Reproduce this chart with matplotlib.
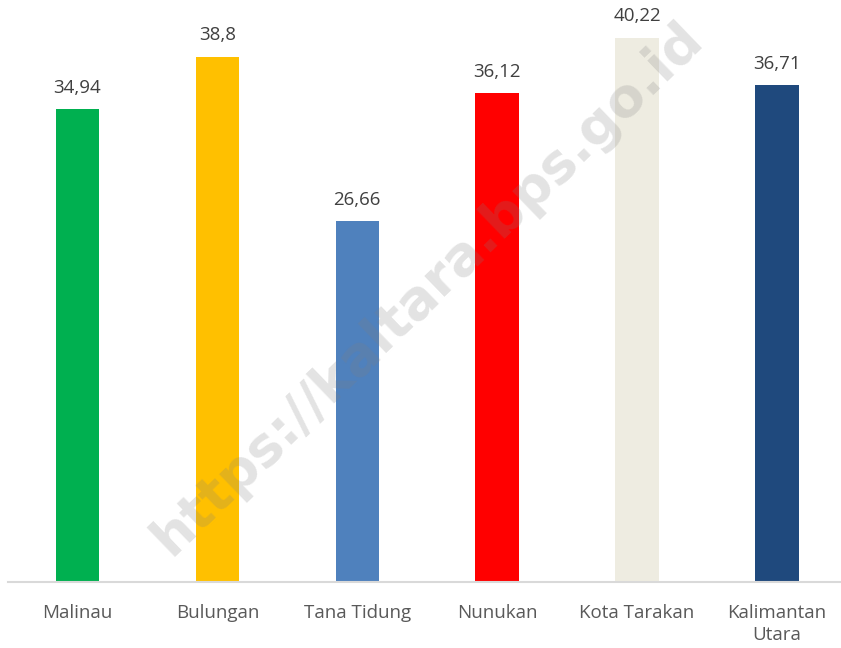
import matplotlib.pyplot as plt

# data
kabupaten = ['Malinau', 'Bulungan', 'Tana Tidung', 'Nunukan', 'Kota Tarakan', 'Kalimantan\nUtara']
nilai = [34.94, 38.8, 26.66, 36.12, 40.22, 36.71]
label_nilai = ['34,94', '38,8', '26,66', '36,12', '40,22', '36,71']
warna = ['#00b050', '#ffc000', '#4f81bd', '#ff0000', '#eeece1', '#1f497d']

plt.rcParams['font.family'] = ['Open Sans', 'DejaVu Sans']

fig = plt.figure(figsize=(8.41, 6.48), dpi=100)
ax = fig.add_axes([0.009, 0.1019, 0.998, 0.8981])

x = range(len(kabupaten))
bars = ax.bar(x, nilai, width=0.31, color=warna)
for b, t in zip(bars, label_nilai):
    ax.annotate(t, (b.get_x() + b.get_width() / 2, b.get_height()),
                xytext=(0, 9), textcoords='offset points',
                ha='center', va='bottom', fontsize=13.5, color='#404040')

ax.set_xlim(-0.5, 5.5)
ax.set_ylim(0, 43)
ax.set_xticks(list(x))
ax.set_xticklabels(kabupaten, fontsize=13.5, color='#595959', linespacing=1.3)
ax.tick_params(axis='x', length=0, pad=16)
ax.set_yticks([])
for s in ['top', 'right', 'left']:
    ax.spines[s].set_visible(False)
ax.spines['bottom'].set_color('#d9d9d9')
ax.spines['bottom'].set_linewidth(1.5)

# watermark
fig.text(0.508, 0.555, 'https://kaltara.bps.go.id', fontsize=39, fontweight='bold',
         color='#808080', alpha=0.22, rotation=44, ha='center', va='center',
         family='DejaVu Sans')

plt.savefig('out.png', dpi=100)
